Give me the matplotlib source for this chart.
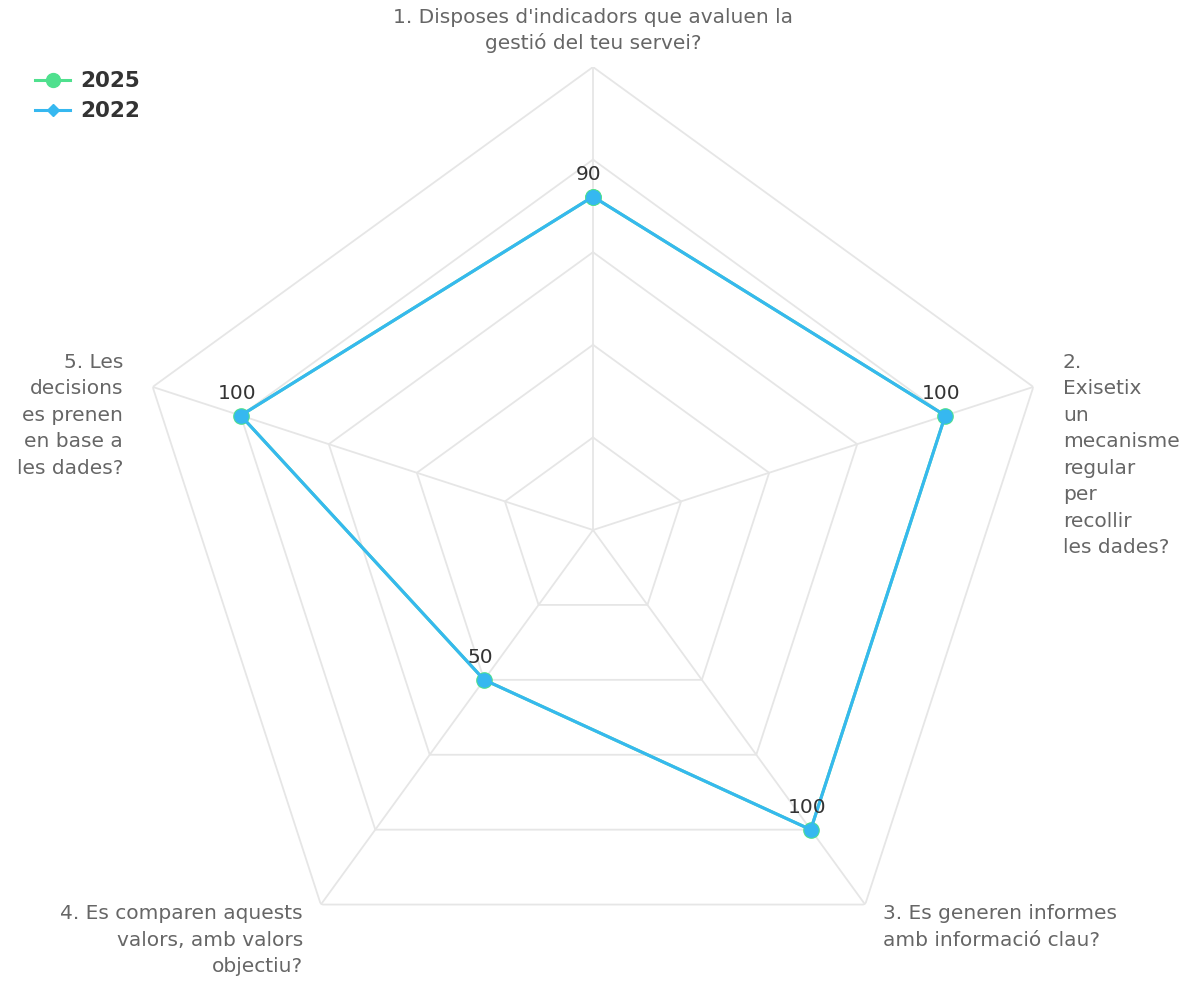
import numpy as np
import matplotlib
matplotlib.use("Agg")
import matplotlib.pyplot as plt
from matplotlib.lines import Line2D

# Survey questions (one per radar spoke)
questions = [
    "1. Disposes d'indicadors que avaluen la\ngestió del teu servei?",
    "2.\nExisetix\nun\nmecanisme\nregular\nper\nrecollir\nles dades?",
    "3. Es generen informes\namb informació clau?",
    "4. Es comparen aquests\nvalors, amb valors\nobjectiu?",
    "5. Les\ndecisions\nes prenen\nen base a\nles dades?",
]
scores_2025 = [90, 100, 100, 50, 100]
scores_2022 = [90, 100, 100, 50, 100]
grid_levels = [25, 50, 75, 100, 125]

GREEN = "#4fe08e"
BLUE = "#36b8f0"
GRID = "#e6e6e6"
W, H = 1192, 981

fig = plt.figure(figsize=(W / 100, H / 100), dpi=100)
cx, cy, rad = 593, 530, 463
ax = fig.add_axes([(cx - rad) / W, (H - cy - rad) / H, 2 * rad / W, 2 * rad / H],
                  projection="polar")
ax.set_theta_zero_location("N")
ax.set_theta_direction(-1)
ax.set_ylim(0, grid_levels[-1])
ax.grid(False)
ax.set_xticks([])
ax.set_yticks([])
ax.spines["polar"].set_visible(False)
ax.patch.set_alpha(0)

n = len(questions)
theta = np.linspace(0, 2 * np.pi, n, endpoint=False)
closed = np.append(theta, theta[0])

# pentagon grid + spokes
for lvl in grid_levels:
    ax.plot(closed, [lvl] * (n + 1), color=GRID, lw=1.3, zorder=1)
for t in theta:
    ax.plot([t, t], [0, grid_levels[-1]], color=GRID, lw=1.3, zorder=1)

v25 = np.append(scores_2025, scores_2025[0])
v22 = np.append(scores_2022, scores_2022[0])
ax.plot(closed, v25, color=GREEN, lw=2.2, marker="o", ms=11, zorder=3, clip_on=False)
ax.plot(closed, v22, color=BLUE, lw=2.2, marker="o", ms=9.5, zorder=4, clip_on=False)

for t, v in zip(theta, scores_2022):
    ax.annotate(str(v), (t, v), textcoords="offset pixels", xytext=(-4, 13),
                ha="center", va="bottom", fontsize=14.5, color="#333333", zorder=5)

# spoke labels (pixel positions of the text anchors)
txt = dict(fontsize=14.5, color="#666666", linespacing=1.5)
fig.text(593 / W, 1 - 8 / H, questions[0], ha="center", va="top",
         fontsize=14.5, color="#666666", linespacing=1.35)
fig.text(1063 / W, 1 - 353 / H, questions[1], ha="left", va="top", **txt)
fig.text(883 / W, 1 - 904 / H, questions[2], ha="left", va="top", **txt)
fig.text(303 / W, 1 - 904 / H, questions[3], ha="right", va="top", **txt)
fig.text(123 / W, 1 - 353 / H, questions[4], ha="right", va="top", **txt)

handles = [
    Line2D([], [], color=GREEN, lw=2.2, marker="o", ms=10),
    Line2D([], [], color=BLUE, lw=2.2, marker="D", ms=6.5),
]
leg = fig.legend(handles, ["2025", "2022"], loc="upper left",
                 bbox_to_anchor=(16 / W, 1 - 52 / H), frameon=False,
                 handlelength=1.6, handletextpad=0.5, labelspacing=0.45,
                 prop={"size": 15.5, "weight": "bold"})
for t in leg.get_texts():
    t.set_color("#333333")

fig.savefig("out.png", dpi=100)
